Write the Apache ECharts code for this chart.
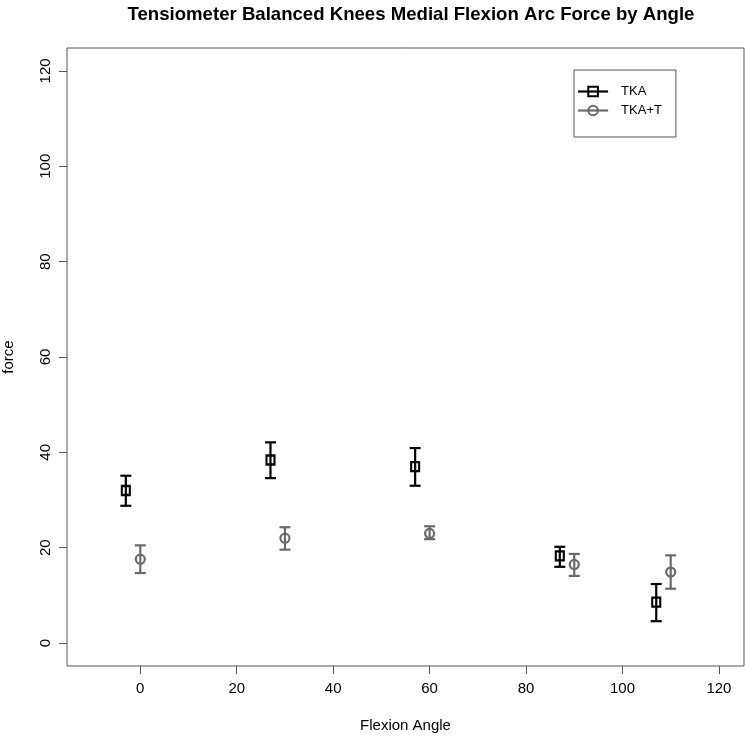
<!DOCTYPE html>
<html>
<head>
<meta charset="utf-8">
<script src="https://cdn.jsdelivr.net/npm/echarts@6/dist/echarts.min.js"></script>
<style>
html,body{margin:0;padding:0;background:#fff;}
#main{width:745px;height:737px;}
</style>
</head>
<body>
<div id="main"></div>
<script>
var seriesNames = ['TKA', 'TKA+T'];
var tkaAngle = [-3, 27, 57, 87, 107];
var tkaMean  = [32.0, 38.4, 37.0, 18.3, 8.6];
var tkaLow   = [28.8, 34.6, 33.0, 16.0, 4.6];
var tkaHigh  = [35.1, 42.1, 40.9, 20.2, 12.4];
var tktAngle = [0, 30, 60, 90, 110];
var tktMean  = [17.6, 22.0, 23.0, 16.5, 14.9];
var tktLow   = [14.7, 19.6, 21.8, 14.1, 11.4];
var tktHigh  = [20.5, 24.3, 24.5, 18.7, 18.4];
var xTicks = [0, 20, 40, 60, 80, 100, 120];
var yTicks = [0, 20, 40, 60, 80, 100, 120];

var FONT = '"Liberation Sans", Arial, Helvetica, sans-serif';
var BLACK = '#000000', GREY = '#6a6a6a', FRAME = '#555555';

function zip3(a, b, c) { return a.map(function (v, i) { return [v, b[i], c[i]]; }); }
function zip2(a, b) { return a.map(function (v, i) { return [v, b[i]]; }); }

function errRender(color) {
  return function (params, api) {
    var x = api.value(0);
    var lo = api.coord([x, api.value(1)]);
    var hi = api.coord([x, api.value(2)]);
    var w = 5.5;
    var st = { stroke: color, lineWidth: 2.2, fill: null };
    return {
      type: 'group',
      children: [
        { type: 'line', shape: { x1: lo[0], y1: lo[1], x2: hi[0], y2: hi[1] }, style: st },
        { type: 'line', shape: { x1: lo[0] - w, y1: lo[1], x2: lo[0] + w, y2: lo[1] }, style: st },
        { type: 'line', shape: { x1: hi[0] - w, y1: hi[1], x2: hi[0] + w, y2: hi[1] }, style: st }
      ]
    };
  };
}

var chart = echarts.init(document.getElementById('main'), null, { renderer: 'canvas' });
chart.setOption({
  backgroundColor: '#ffffff',
  animation: false,
  textStyle: { fontFamily: FONT },
  title: {
    text: 'Tensiometer Balanced Knees Medial Flexion Arc Force by Angle',
    left: 406, top: 0, textAlign: 'center',
    textStyle: { fontFamily: FONT, fontWeight: 'bold', fontSize: 18.6, color: '#000' }
  },
  legend: {
    left: 574, top: 70,
    orient: 'vertical',
    data: seriesNames,
    itemWidth: 30, itemHeight: 12, itemGap: 6,
    padding: [15, 14, 20, 3],
    borderColor: FRAME, borderWidth: 1,
    backgroundColor: '#fff',
    lineStyle: { width: 2.2 },
    textStyle: { fontFamily: FONT, fontSize: 13, color: '#000', padding: [0, 0, 0, 8] }
  },
  grid: {
    left: 67, right: 1, top: 48, bottom: 71,
    outerBoundsMode: 'none', containLabel: false,
    show: true, borderColor: FRAME, borderWidth: 1, backgroundColor: 'transparent'
  },
  xAxis: {
    type: 'value', min: -15.2, max: 125.2,
    name: 'Flexion Angle', nameLocation: 'middle', nameGap: 52,
    nameTextStyle: { fontFamily: FONT, fontSize: 15, color: '#000' },
    axisLine: { show: false, onZero: false },
    splitLine: { show: false },
    axisTick: { show: true, inside: false, length: 8, customValues: xTicks, lineStyle: { color: FRAME } },
    axisLabel: { customValues: xTicks, margin: 15, fontFamily: FONT, fontSize: 15, color: '#000' }
  },
  yAxis: {
    type: 'value', min: -4.8, max: 124.8,
    name: 'force', nameLocation: 'middle', nameGap: 51, nameRotate: 90,
    nameTextStyle: { fontFamily: FONT, fontSize: 15, color: '#000' },
    axisLine: { show: false, onZero: false },
    splitLine: { show: false },
    axisTick: { show: true, inside: false, length: 8, customValues: yTicks, lineStyle: { color: FRAME } },
    axisLabel: { customValues: yTicks, rotate: 90, margin: 14, fontFamily: FONT, fontSize: 15, color: '#000' }
  },
  series: [
    {
      name: 'TKA', type: 'line', data: zip2(tkaAngle, tkaMean),
      symbol: 'rect', symbolSize: [8, 9], showSymbol: true,
      lineStyle: { width: 0, color: BLACK },
      itemStyle: { color: 'rgba(255,255,255,0)', borderColor: BLACK, borderWidth: 2.2 },
      z: 3
    },
    {
      name: 'TKA+T', type: 'line', data: zip2(tktAngle, tktMean),
      symbol: 'circle', symbolSize: 9, showSymbol: true,
      lineStyle: { width: 0, color: GREY },
      itemStyle: { color: 'rgba(255,255,255,0)', borderColor: GREY, borderWidth: 2.2 },
      z: 3
    },
    {
      name: 'TKA_err', type: 'custom', data: zip3(tkaAngle, tkaLow, tkaHigh),
      renderItem: errRender(BLACK), silent: true, z: 4
    },
    {
      name: 'TKAT_err', type: 'custom', data: zip3(tktAngle, tktLow, tktHigh),
      renderItem: errRender(GREY), silent: true, z: 4
    }
  ]
});
</script>
</body>
</html>
